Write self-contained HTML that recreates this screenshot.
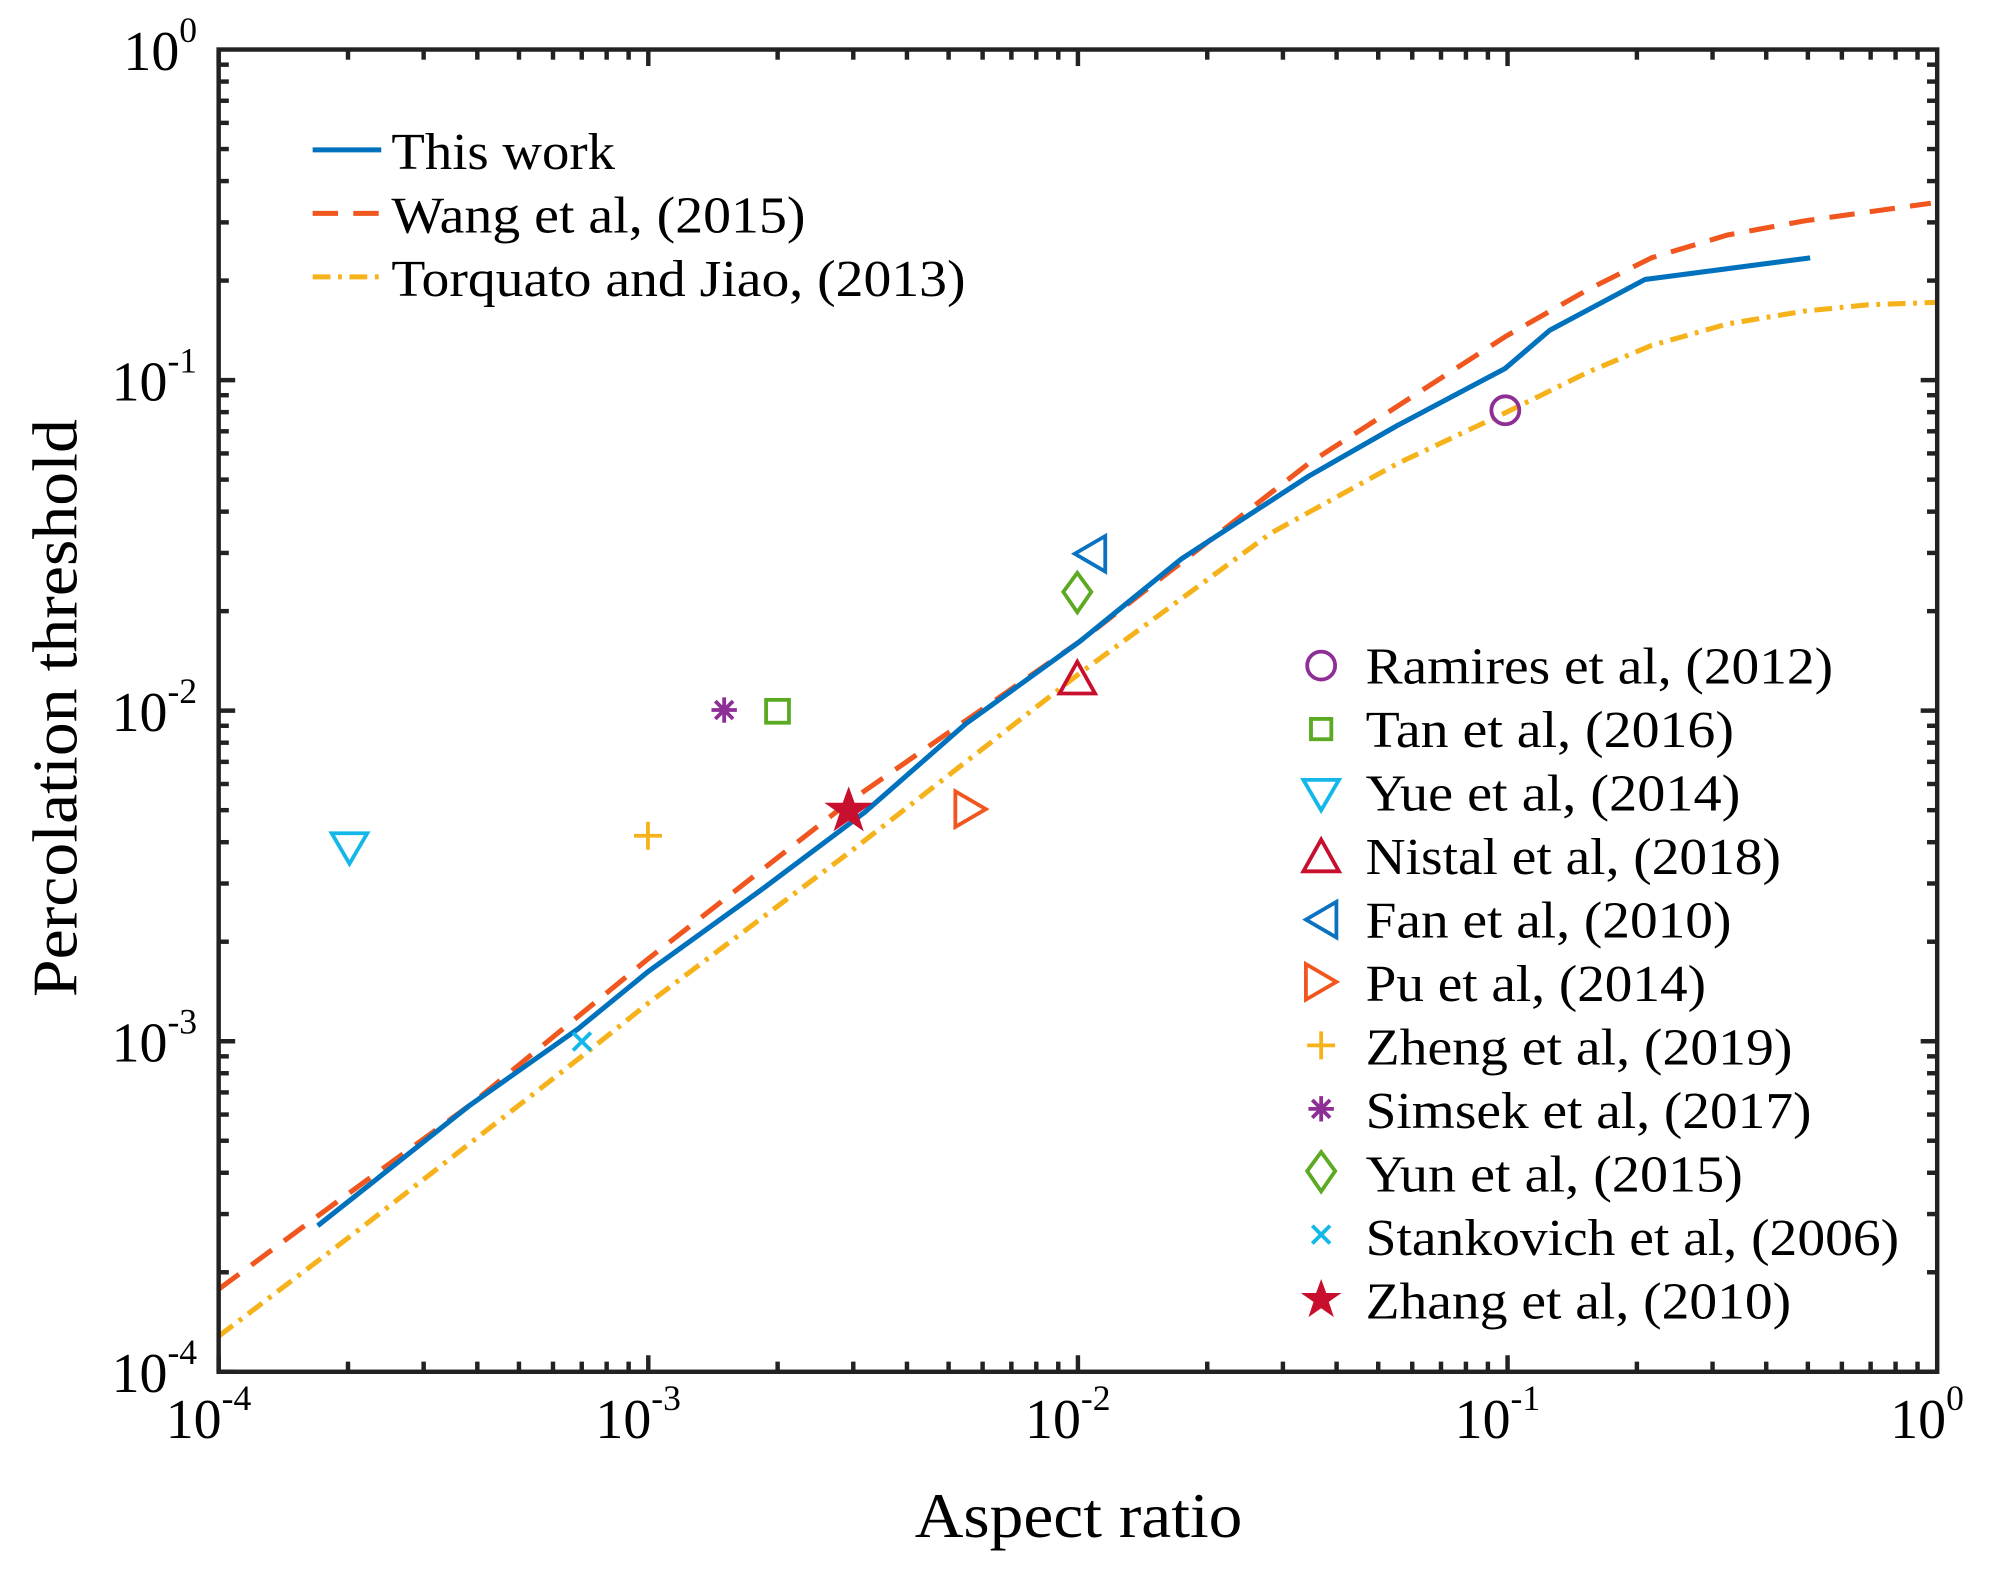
<!DOCTYPE html>
<html><head><meta charset="utf-8"><style>html,body{margin:0;padding:0;background:#fff}svg{display:block}text{font-family:"Liberation Serif",serif;fill:#000}</style></head>
<body>
<svg id="s" width="1992" height="1575" viewBox="0 0 1568 1240" xmlns="http://www.w3.org/2000/svg">
<rect width="1568" height="1240" fill="#fff"/>
<g id="ticks" stroke="#222" stroke-width="3.5"></g>
<g fill="none" stroke-width="4" stroke-linejoin="round">
<polyline stroke="#F6B21A" stroke-dasharray="14,6,3,6" points="172,1052 280,970 460,830 510,790 670,670 850,530 1000,420 1100,365 1185,325 1250,293 1300,272 1360,255 1420,245 1470,240 1525,238"/>
<polyline stroke="#F0561E" stroke-dasharray="20,12" points="172,1015 260,950 370,870 510,755 670,630 850,505 1030,365 1185,265 1250,228 1300,203 1360,185 1420,174 1470,167 1520,160"/>
<polyline stroke="#0072BD" points="250,965 370,870 455,810 510,765 600,700 680,640 760,570 850,505 930,440 1030,375 1100,335 1185,290 1220,260 1295,220 1425,203"/>
</g>
<rect x="172" y="39" width="1353" height="1041" fill="none" stroke="#222" stroke-width="3.5"/>
<g fill="none" stroke-width="3">
<circle cx="1185" cy="323" r="11" stroke="#8E2F96"/>
<rect x="603" y="551" width="18" height="18" stroke="#5BAA22"/>
<polygon points="261,656 289,656 275,680" stroke="#13B8E8"/>
<polygon points="848,521 862,546 834,546" stroke="#C8102E"/>
<polygon points="846,436 870,422 870,450" stroke="#0A72C0"/>
<polygon points="776,637 752,623 752,651" stroke="#F0561E"/>
<path d="M499,658h22M510,647v22" stroke="#F6B21A"/>
<path d="M560,559h20M570,549v20M563,552l14,14M577,552l-14,14" stroke="#8E2F96"/>
<polygon points="848,451 859,466 848,482 837,466" stroke="#5BAA22"/>
<path d="M451,813l14,14M465,813l-14,14" stroke="#13B8E8"/>
</g>
<polygon points="668,622 672,633 684,633 674,640 678,652 668,645 658,652 662,640 652,633 664,633" fill="#C8102E" stroke="#C8102E" stroke-width="2"/>
<g stroke-width="4">
<line x1="246" y1="118" x2="300" y2="118" stroke="#0072BD"/>
<line x1="246" y1="168" x2="300" y2="168" stroke="#F0561E" stroke-dasharray="20,12"/>
<line x1="246" y1="218" x2="300" y2="218" stroke="#F6B21A" stroke-dasharray="14,6,3,6"/>
</g>
<g font-size="41">
<text x="308" y="133" textLength="176" lengthAdjust="spacingAndGlyphs">This work</text>
<text x="308" y="183" textLength="326" lengthAdjust="spacingAndGlyphs">Wang et al, (2015)</text>
<text x="308" y="233" textLength="452" lengthAdjust="spacingAndGlyphs">Torquato and Jiao, (2013)</text>
</g>
<g fill="none" stroke-width="3">
<circle cx="1040" cy="524" r="11" stroke="#8E2F96"/>
<rect x="1032" y="566" width="16" height="16" stroke="#5BAA22"/>
<polygon points="1026,614 1054,614 1040,638" stroke="#13B8E8"/>
<polygon points="1040,661 1054,686 1026,686" stroke="#C8102E"/>
<polygon points="1028,724 1052,710 1052,738" stroke="#0A72C0"/>
<polygon points="1052,773 1028,759 1028,787" stroke="#F0561E"/>
<path d="M1029,823h22M1040,812v22" stroke="#F6B21A"/>
<path d="M1030,873h20M1040,863v20M1033,866l14,14M1047,866l-14,14" stroke="#8E2F96"/>
<polygon points="1040,907 1051,922 1040,938 1029,922" stroke="#5BAA22"/>
<path d="M1033,965l14,14M1047,965l-14,14" stroke="#13B8E8"/>
</g>
<polygon points="1040,1007 1044,1018 1056,1018 1046,1025 1050,1037 1040,1030 1030,1037 1034,1025 1024,1018 1036,1018" fill="#C8102E"/>
<g font-size="41" lengthAdjust="spacingAndGlyphs">
<text x="1075" y="538" textLength="368" lengthAdjust="spacingAndGlyphs">Ramires et al, (2012)</text>
<text x="1075" y="588" textLength="290" lengthAdjust="spacingAndGlyphs">Tan et al, (2016)</text>
<text x="1075" y="638" textLength="295" lengthAdjust="spacingAndGlyphs">Yue et al, (2014)</text>
<text x="1075" y="688" textLength="327" lengthAdjust="spacingAndGlyphs">Nistal et al, (2018)</text>
<text x="1075" y="738" textLength="288" lengthAdjust="spacingAndGlyphs">Fan et al, (2010)</text>
<text x="1075" y="788" textLength="268" lengthAdjust="spacingAndGlyphs">Pu et al, (2014)</text>
<text x="1075" y="838" textLength="336" lengthAdjust="spacingAndGlyphs">Zheng et al, (2019)</text>
<text x="1075" y="888" textLength="351" lengthAdjust="spacingAndGlyphs">Simsek et al, (2017)</text>
<text x="1075" y="938" textLength="297" lengthAdjust="spacingAndGlyphs">Yun et al, (2015)</text>
<text x="1075" y="988" textLength="420" lengthAdjust="spacingAndGlyphs">Stankovich et al, (2006)</text>
<text x="1075" y="1038" textLength="335" lengthAdjust="spacingAndGlyphs">Zhang et al, (2010)</text>
</g>
<g id="labels" font-size="44"></g>
<text x="720" y="1210" font-size="50" textLength="258" lengthAdjust="spacingAndGlyphs">Aspect ratio</text>
<text transform="translate(60,785) rotate(-90)" font-size="50" textLength="455" lengthAdjust="spacingAndGlyphs">Percolation threshold</text>
</svg>
<script>
var NS="http://www.w3.org/2000/svg",t=document.getElementById("ticks"),L=document.getElementById("labels");
function ln(a,b,c,d){var e=document.createElementNS(NS,"line");e.setAttribute("x1",a);e.setAttribute("y1",b);e.setAttribute("x2",c);e.setAttribute("y2",d);t.appendChild(e);}
function tx(x,y,s,anc){var e=document.createElementNS(NS,"text");e.setAttribute("x",x);e.setAttribute("y",y);e.setAttribute("text-anchor",anc);e.innerHTML='10<tspan font-size="28" dy="-22">'+s+'</tspan>';L.appendChild(e);}
for(var d=0;d<4;d++)for(var k=1;k<10;k++){var o=Math.log10(k),len=k==1?13:8;
var x=172+338.25*(d+o);ln(x,1080,x,1080-len);ln(x,39,x,39+len);
var y=1080-260.25*(d+o);ln(172,y,172+len,y);ln(1525,y,1525-len,y);}
for(var i=0;i<=4;i++){tx(172+338.25*i-8,1132,i==4?"0":"-"+(4-i),"middle");tx(155,1080-260.25*i+16,i==4?"0":"-"+(4-i),"end");}
</script>
</body></html>
